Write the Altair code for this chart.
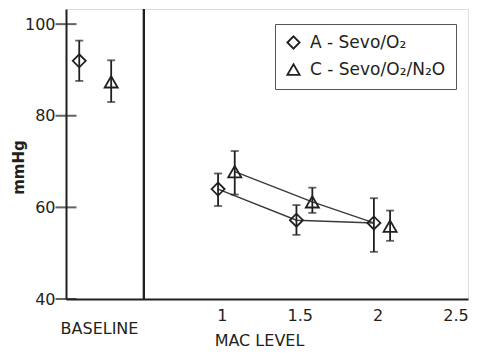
import altair as alt
import pandas as pd

groups = ["A - Sevo/O₂", "C - Sevo/O₂/N₂O"]

# plotted x positions: baseline group at the left, then MAC levels (with small offsets)
a_x = [0.085, 0.976, 1.479, 1.976]
a_mean = [92.0, 64.0, 57.2, 56.6]
a_hi = [96.4, 67.4, 60.5, 62.0]
a_lo = [87.6, 60.3, 54.0, 50.3]

c_x = [0.29, 1.083, 1.581, 2.08]
c_mean = [87.4, 67.8, 61.2, 55.9]
c_hi = [92.1, 72.3, 64.3, 59.3]
c_lo = [83.0, 62.8, 58.8, 52.7]

# connecting lines (MAC levels only); group C's line ends at A's 2-MAC point, as drawn
a_line_x = [0.976, 1.479, 1.976]
a_line_y = [64.0, 57.2, 56.6]
c_line_x = [1.083, 1.581, 1.976]
c_line_y = [67.8, 61.2, 56.6]

x_ticks = [1, 1.5, 2, 2.5]
y_ticks = [40, 60, 80, 100]
section_labels = ["BASELINE"]
section_x = [0.215]

FONT = "DejaVu Sans"
INK = "#231f20"

pts = pd.DataFrame({
    "x": a_x + c_x,
    "mean": a_mean + c_mean,
    "hi": a_hi + c_hi,
    "lo": a_lo + c_lo,
    "group": [groups[0]] * len(a_x) + [groups[1]] * len(c_x),
})
lines = pd.DataFrame({
    "x": a_line_x + c_line_x,
    "y": a_line_y + c_line_y,
    "group": [groups[0]] * len(a_line_x) + [groups[1]] * len(c_line_x),
})
yt = pd.DataFrame({"y": y_ticks})
sect = pd.DataFrame({"label": section_labels, "x": section_x})

xscale = alt.Scale(domain=[0, 2.58], nice=False, zero=False)
yscale = alt.Scale(domain=[40, 103.3], nice=False, zero=False)

xaxis = alt.Axis(values=x_ticks, format="~g", ticks=False, grid=False, labelPadding=8,
                 labelFontSize=16, labelFont=FONT, labelColor=INK,
                 domainColor=INK, domainWidth=2,
                 title="MAC LEVEL", titleFont=FONT, titleFontSize=16,
                 titleFontWeight="normal", titleColor=INK,
                 titleX=193, titleY=41, titleBaseline="middle")
yaxis = alt.Axis(values=y_ticks, ticks=False, grid=False, labelPadding=11,
                 labelFontSize=16, labelFont=FONT, labelColor=INK,
                 domainColor=INK, domainWidth=2,
                 title="mmHg", titleFont=FONT, titleFontSize=15,
                 titleFontWeight="bold", titleColor=INK,
                 titleX=-48, titleY=158, titleAngle=-90,
                 titleAlign="center", titleBaseline="middle")

base = alt.Chart(pts)

line_layer = alt.Chart(lines).mark_line(color="#3a3a3a", strokeWidth=1.4).encode(
    x=alt.X("x:Q", scale=xscale, axis=xaxis),
    y=alt.Y("y:Q", scale=yscale, axis=yaxis),
    detail="group:N",
)

err = base.mark_rule(color=INK, strokeWidth=1.8).encode(
    x=alt.X("x:Q", scale=xscale),
    y=alt.Y("lo:Q", scale=yscale),
    y2="hi:Q",
)
cap_hi = base.mark_tick(orient="horizontal", size=8, thickness=1.8, color=INK).encode(
    x=alt.X("x:Q", scale=xscale), y=alt.Y("hi:Q", scale=yscale))
cap_lo = base.mark_tick(orient="horizontal", size=8, thickness=1.8, color=INK).encode(
    x=alt.X("x:Q", scale=xscale), y=alt.Y("lo:Q", scale=yscale))

points = base.mark_point(filled=False, size=170, strokeWidth=1.8, opacity=1, color=INK).encode(
    x=alt.X("x:Q", scale=xscale),
    y=alt.Y("mean:Q", scale=yscale),
    shape=alt.Shape("group:N",
                    scale=alt.Scale(domain=groups, range=["diamond", "triangle-up"]),
                    legend=alt.Legend(title=None, orient="none", legendX=209, legendY=15,
                                      strokeColor="#555555", padding=10, rowPadding=7,
                                      symbolSize=150, symbolStrokeWidth=1.8,
                                      symbolStrokeColor=INK, symbolFillColor="transparent",
                                      labelFontSize=17, labelFont=FONT, labelColor=INK,
                                      labelOffset=8)),
)

divider = alt.Chart(yt).mark_rule(color=INK, strokeWidth=2).encode(x=alt.datum(0.5))

ytick_marks = alt.Chart(yt).mark_tick(orient="horizontal", size=21, thickness=2, color=INK).encode(
    x=alt.datum(0), y=alt.Y("y:Q", scale=yscale))

baseline_label = alt.Chart(sect).mark_text(
    font=FONT, fontSize=16, color=INK, baseline="middle", align="center"
).encode(x=alt.X("x:Q", scale=xscale), y=alt.value(320), text="label:N")

chart = alt.layer(
    line_layer, divider, ytick_marks, err, cap_hi, cap_lo, points, baseline_label
).properties(
    width=402, height=290,
    autosize=alt.AutoSizeParams(type="none"),
    padding={"left": 58, "top": 1, "right": 5, "bottom": 56},
).configure_view(stroke=None).configure_legend(strokeWidth=1.5).configure(background="white")

chart.save("out.html", embed_options={"renderer": "svg", "actions": False})
